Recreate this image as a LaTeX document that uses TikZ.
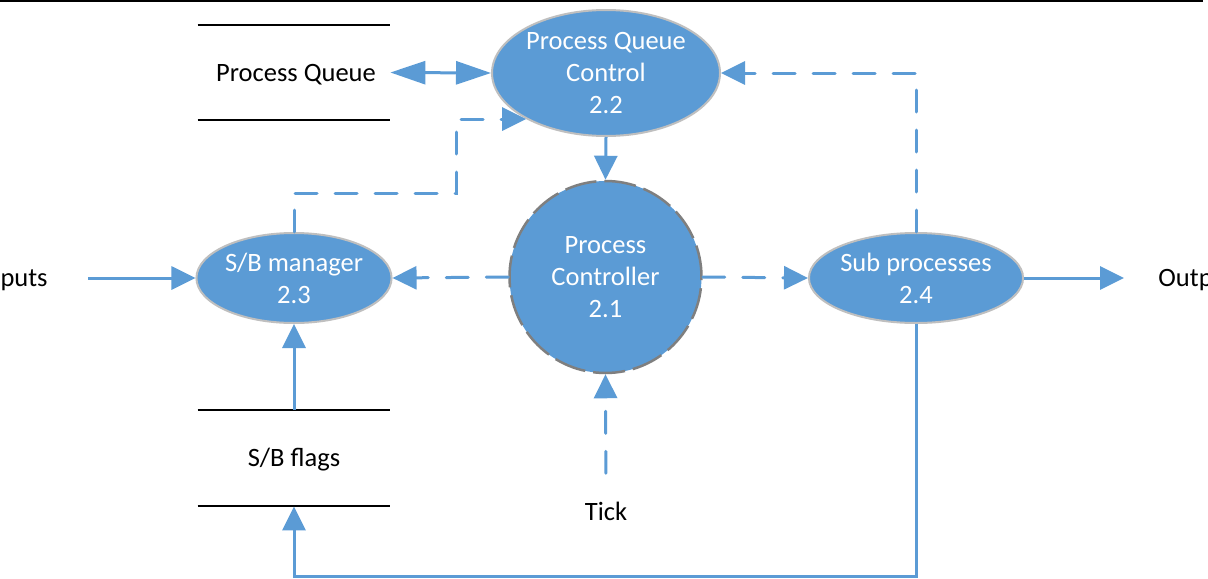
\documentclass[tikz,border=0pt]{standalone}
\usepackage{fontspec}
\setmainfont{Carlito}
\usetikzlibrary{arrows.meta,shapes.geometric}
\definecolor{flowblue}{HTML}{5B9BD5}
\definecolor{rimgrey}{HTML}{BFBFBF}
\definecolor{dashgrey}{HTML}{7F7F7F}
\begin{document}
\begin{tikzpicture}[x=0.5pt,y=-0.5pt,
  font=\fontsize{13.25}{16}\selectfont,
  lbl/.style={inner sep=0pt, text=black},
  proc/.style={ellipse, fill=flowblue, draw=rimgrey, line width=1pt,
    text=white, align=center, inner sep=0pt,
    minimum width=96pt, minimum height=45pt},
  store/.style={inner sep=0pt, minimum width=96pt, text=black},
  storeline/.style={draw=black, line width=1pt},
  flow/.style={draw=flowblue, line width=1.5pt,
    -{Triangle[length=12pt,width=11.5pt]}},
  dflow/.style={flow, line cap=round, dash pattern=on 11pt off 9pt},
  bigtip/.style={{Triangle[length=17.5pt,width=11.5pt]}-{Triangle[length=17.5pt,width=11.5pt]}}
]
\clip (0,0) rectangle (1208,578);
\fill[white] (0,0) rectangle (1208,578);

% rule along the top edge
\draw[line width=1pt] (0,1) -- (1203,1);

% data stores: an open box with a top and a bottom rule
\node[store, minimum height=47.5pt] (pq) at (294,72.5) {};
\node[lbl] (pqtext) at (296,75) {Process Queue};
\draw[storeline] (pq.north west) -- (pq.north east) (pq.south west) -- (pq.south east);
\node[store, minimum height=48pt] (sbf) at (294,458) {};
\node[lbl] (sbftext) at (294,460) {S/B flags};
\draw[storeline] (sbf.north west) -- (sbf.north east) (sbf.south west) -- (sbf.south east);

% processes
\node[proc, minimum width=114pt, minimum height=63pt] (pqc) at (606,73) {Process Queue\\Control\\2.2};
\node[proc, circle, minimum size=96pt, draw=dashgrey, line width=1.25pt,
  dash pattern=on 16pt off 4pt] (pc) at (605.5,277) {Process\\Controller\\2.1};
\node[proc] (sbm) at (294,278) {S/B manager\\2.3};
\node[proc] (sub) at (916,278) {Sub processes\\2.4};

% external entities
\node[lbl, anchor=east] (in) at (48,280) {Inputs};
\node[lbl, anchor=west] (out) at (1158,280) {Output};
\node[lbl] (tick) at (606,511) {Tick};

% flows
\draw[flow, bigtip] (pq.east) -- (pqc.west);
\draw[flow] (pqc.south) -- (pc.north);
\draw[dflow] (pc.west) -- (sbm.east);
\draw[dflow] (pc.east) -- (sub.west);
\draw[flow, shorten <=20pt] (in.east |- sbm.west) -- (sbm.west);
\draw[flow, shorten >=17pt] (sub.east) -- (sub.east -| out.west);
\draw[flow] (sbf.north) -- (sbm.south);
\draw[dflow] (sbm.north) |- (456,193) |- (pqc.210.5);
\draw[dflow] (sub.north) |- (pqc.east);
\draw[dflow, shorten <=14pt] (tick.north) -- (pc.south);
\draw[flow] (sub.south) |- (294,576) -- (sbf.south);
\end{tikzpicture}
\end{document}
